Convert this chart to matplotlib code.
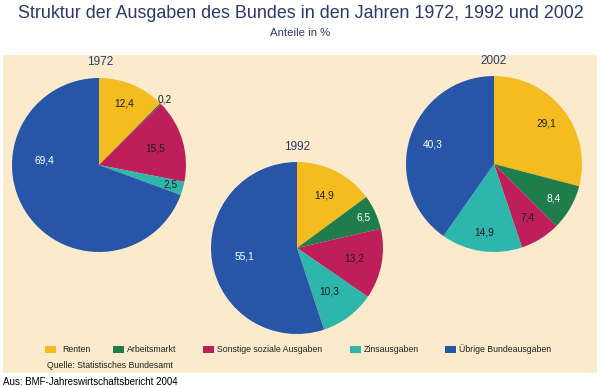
import matplotlib
matplotlib.use("Agg")
import matplotlib.pyplot as plt
from matplotlib.patches import Rectangle
import numpy as np

plt.rcParams['font.family'] = ['Liberation Sans', 'DejaVu Sans']

categories = ["Renten", "Arbeitsmarkt", "Sonstige soziale Ausgaben", "Zinsausgaben", "Übrige Bundeausgaben"]
years = ["1972", "1992", "2002"]
values_1972 = [12.4, 0.2, 15.5, 2.5, 69.4]
values_1992 = [14.9, 6.5, 13.2, 10.3, 55.1]
values_2002 = [29.1, 8.4, 7.4, 14.9, 40.3]
series = [values_1972, values_1992, values_2002]

colors = ["#F4BC1F", "#1F7D4C", "#BE1F5A", "#2DB6AC", "#2756A9"]
label_colors_by_cat = ["#1a1a1a", "white", "#1a1a1a", "#1a1a1a", "white"]

W, H = 600, 388
fig = plt.figure(figsize=(6, 3.88), dpi=100)
fig.patch.set_facecolor("white")
ax = fig.add_axes([0, 0, 1, 1])

def Y(y):
    return H - y

# layout (pixel coordinates, y from top)
centers = [(99, 165), (297, 248), (494, 164)]
radii = [87, 86, 88]
year_label_pos = [(100, 62), (297, 147), (494, 61)]
label_dist = [[0.76, 1.07, 0.67, 0.85, 0.63],
              [0.69, 0.85, 0.68, 0.63, 0.62],
              [0.75, 0.78, 0.72, 0.79, 0.73]]
angle_override = {(0, 4): 175.0}

ax.add_patch(Rectangle((3, Y(373)), 594, 373 - 55, facecolor="#FBEBCC", edgecolor="none", zorder=0))

for i, vals in enumerate(series):
    cx, cy = centers[i]
    r = radii[i]
    wedges, _ = ax.pie(vals, colors=colors, startangle=90, counterclock=False,
                       center=(cx, Y(cy)), radius=r, frame=True,
                       wedgeprops=dict(linewidth=0))
    for j, w in enumerate(wedges):
        ang = (w.theta1 + w.theta2) / 2.0
        ang = angle_override.get((i, j), ang)
        d = label_dist[i][j] * r
        tx = cx + d * np.cos(np.radians(ang))
        ty = Y(cy) + d * np.sin(np.radians(ang))
        txt = f"{vals[j]:.1f}".replace(".", ",")
        col = label_colors_by_cat[j] if label_dist[i][j] < 1 else "#1a1a1a"
        ax.text(tx, ty, txt, ha="center", va="center", fontsize=7.3, color=col, zorder=5)
    yx, yy = year_label_pos[i]
    ax.text(yx, Y(yy), years[i], ha="center", va="center", fontsize=8.5, color="#2B3A6B", zorder=5)

ax.set_xlim(0, W)
ax.set_ylim(0, H)
ax.set_aspect("auto")
ax.axis("off")

# title
ax.text(301, Y(14), "Struktur der Ausgaben des Bundes in den Jahren 1972, 1992 und 2002",
        ha="center", va="center", fontsize=12.9, color="#2B3A6B")
ax.text(300, Y(33), "Anteile in %", ha="center", va="center", fontsize=8.2, color="#2B3A6B")

# legend
legend_x = [45, 113, 203, 350, 445]
for k, cat in enumerate(categories):
    ax.add_patch(Rectangle((legend_x[k], Y(353)), 11, 7, facecolor=colors[k], edgecolor="none", zorder=5))
    ax.text(legend_x[k] + 14 + (3 if k == 0 else 0), Y(349.5), cat, ha="left", va="center", fontsize=6.3, color="#222222")

ax.text(47, Y(365), "Quelle: Statistisches Bundesamt", ha="left", va="center", fontsize=6.3, color="#222222")
ax.text(3, Y(382), "Aus: BMF-Jahreswirtschaftsbericht 2004", ha="left", va="center", fontsize=7, color="black")

fig.savefig("out.png", dpi=100, facecolor="white")
